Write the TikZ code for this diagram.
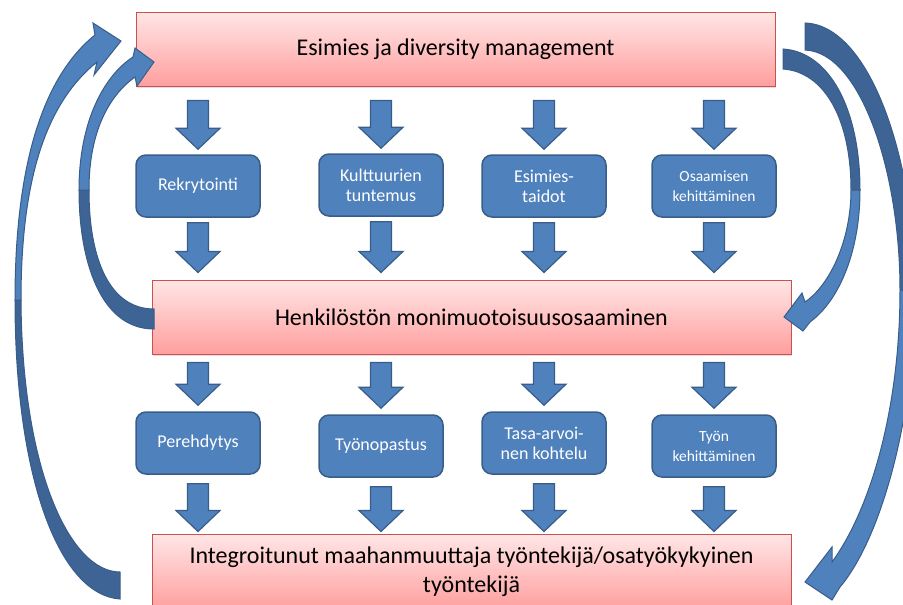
\documentclass[tikz,border=0pt]{standalone}
\usepackage{fontspec}
\setmainfont{Carlito}
\usetikzlibrary{calc,shadows}

\definecolor{boxblue}{RGB}{79,129,189}
\definecolor{boxline}{RGB}{56,93,138}
\definecolor{darkblue}{RGB}{62,100,150}
\definecolor{pinktop}{RGB}{255,230,230}
\definecolor{pinkbottom}{RGB}{255,158,158}
\definecolor{pinkline}{RGB}{205,80,78}

\tikzset{
  bigbox/.style={draw=pinkline, line width=1pt, top color=pinktop, bottom color=pinkbottom,
    minimum width=639pt, minimum height=74pt, align=center,
    font=\fontsize{24}{29}\selectfont,
    drop shadow={opacity=0.25, shadow xshift=1pt, shadow yshift=-2pt}},
  smallbox/.style={draw=boxline, line width=1.5pt, fill=boxblue, rounded corners=10pt,
    minimum width=124pt, minimum height=62pt, text=white, align=center,
    font=\fontsize{18}{20}\selectfont},
  smallfont/.style={font=\fontsize{15.5}{20}\selectfont},
  blockarrow/.style={draw=boxline, line width=1.2pt, fill=boxblue},
  bendback/.style={draw=boxline, line width=1pt, fill=darkblue},
  bendfront/.style={draw=boxline, line width=1pt, fill=boxblue},
}

% block arrow pointing down, #1 = top of shaft, #2 = tip
\newcommand{\downblock}[2]{%
  \draw[blockarrow] ($(#1)+(-10.5,0)$) -- ($(#1)+(10.5,0)$) -- ($(#2)+(10.5,-21)$)
    -- ($(#2)+(22,-21)$) -- (#2) -- ($(#2)+(-22,-21)$) -- ($(#2)+(-10.5,-21)$) -- cycle;}

\begin{document}
\begin{tikzpicture}[x=1pt, y=-1pt]
  \useasboundingbox (0,0) rectangle (903,605);
  \clip (0,0) rectangle (903,605);

  % main boxes
  \node[bigbox] (esimies) at (455.5,49) {Esimies ja diversity management};
  \node[bigbox] (henk) at (471.5,317) {Henkilöstön monimuotoisuusosaaminen};
  \node[bigbox, minimum height=76pt] (integ) at (471.5,572)
    {Integroitunut maahanmuuttaja työntekijä/osatyökykyinen\\työntekijä};

  % first row
  \node[smallbox] (rek) at (198,186) {Rekrytointi};
  \node[smallbox] (kult) at (381,185) {Kulttuurien\\tuntemus};
  \node[smallbox] (esi) at (544,186) {Esimies-\\taidot};
  \node[smallbox, smallfont] (osa) at (714,186) {Osaamisen\\kehittäminen};

  % second row
  \node[smallbox] (pere) at (198,443) {Perehdytys};
  \node[smallbox] (tyon) at (381,446) {Työnopastus};
  \node[smallbox] (tasa) at (544,443) {Tasa-arvoi-\\nen kohtelu};
  \node[smallbox, smallfont] (kehi) at (714,446) {Työn\\kehittäminen};

  \foreach \c in {rek,kult,esi,osa} {
    \coordinate (a) at ($(esimies.south -| \c)+(0,14)$);
    \coordinate (b) at ($(\c.north)+(0,-5)$);
    \downblock{a}{b}
    \coordinate (a) at ($(\c.south)+(0,5)$);
    \coordinate (b) at ($(henk.north -| \c)+(0,-7)$);
    \downblock{a}{b}
  }
  \foreach \c in {pere,tyon,tasa,kehi} {
    \coordinate (a) at ($(henk.south -| \c)+(0,8)$);
    \coordinate (b) at ($(\c.north)+(0,-6)$);
    \downblock{a}{b}
    \coordinate (a) at ($(\c.south)+(0,9)$);
    \coordinate (b) at ($(integ.north -| \c)+(0,-2)$);
    \downblock{a}{b}
  }

  % curved arrows, left outer
  \path[bendback] (120,599) .. controls (60,595) and (15,480) .. (15,300)
    -- (21,300) .. controls (22,470) and (70,572) .. (120,572) -- cycle;
  \path[bendfront] (15,300) .. controls (15,160) and (45,75) .. (95,35)
    -- (93,23) -- (121,41) -- (94,75) -- (97,62)
    .. controls (50,100) and (21,170) .. (21,300) -- cycle;

  % left inner
  \path[bendback] (154,329) .. controls (100,329) and (79,260) .. (79,190)
    -- (89,190) .. controls (89,260) and (110,309) .. (154,309) -- cycle;
  \path[bendfront] (79,190) .. controls (79,120) and (105,75) .. (133,57)
    -- (135,48) -- (154,62) -- (137,86) -- (135,77)
    .. controls (110,95) and (89,130) .. (89,190) -- cycle;

  % right inner
  \path[bendback] (783,49) .. controls (830,52) and (860,110) .. (860,190)
    -- (851,190) .. controls (851,120) and (825,72) .. (783,69) -- cycle;
  \path[bendfront] (860,190) .. controls (860,250) and (840,300) .. (810,322)
    -- (803,331) -- (784,317) -- (802,293) -- (805,302)
    .. controls (830,285) and (851,240) .. (851,190) -- cycle;

  % right outer
  \path[bendback] (805,23) .. controls (870,25) and (915,160) .. (915,290)
    -- (900,290) .. controls (900,170) and (860,52) .. (805,50) -- cycle;
  \path[bendfront] (915,290) .. controls (915,420) and (880,540) .. (840,587)
    -- (832,600) -- (805,582) -- (832,547) -- (832,562)
    .. controls (870,510) and (900,410) .. (900,290) -- cycle;
\end{tikzpicture}
\end{document}
